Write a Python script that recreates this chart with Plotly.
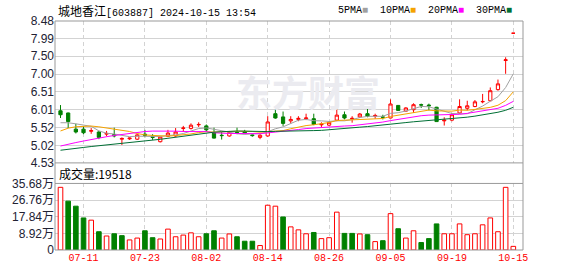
import plotly.graph_objects as go
import pandas as pd

# ---------------- data ----------------
dates = ["07-08", "07-09", "07-10", "07-11", "07-12", "07-15", "07-16", "07-17", "07-18", "07-19",
         "07-22", "07-23", "07-24", "07-25", "07-26", "07-29", "07-30", "07-31", "08-01", "08-02",
         "08-05", "08-06", "08-07", "08-08", "08-09", "08-12", "08-13", "08-14", "08-15", "08-16",
         "08-19", "08-20", "08-21", "08-22", "08-23", "08-26", "08-27", "08-28", "08-29", "08-30",
         "09-02", "09-03", "09-04", "09-05", "09-06", "09-09", "09-10", "09-11", "09-12", "09-13",
         "09-18", "09-19", "09-20", "09-23", "09-24", "09-25", "09-26", "09-27", "09-30", "10-15"]

opens = [5.98, 5.92, 5.47, 5.47, 5.41, 5.39, 5.33, 5.32, 5.19, 5.20,
         5.19, 5.33, 5.27, 5.12, 5.27, 5.28, 5.49, 5.49, 5.59, 5.56,
         5.37, 5.30, 5.28, 5.38, 5.40, 5.31, 5.24, 5.28, 5.90, 5.81,
         5.70, 5.74, 5.76, 5.76, 5.59, 5.58, 5.72, 5.87, 5.75, 5.81,
         5.90, 5.83, 5.81, 5.78, 6.13, 5.97, 6.01, 6.15, 6.14, 6.08,
         5.70, 5.72, 5.92, 6.05, 6.10, 6.23, 6.26, 6.57, 7.38, 8.14]
highs = [6.14, 5.93, 5.62, 5.55, 5.50, 5.42, 5.42, 5.51, 5.24, 5.24,
         5.33, 5.45, 5.33, 5.25, 5.45, 5.50, 5.56, 5.63, 5.66, 5.60,
         5.51, 5.39, 5.42, 5.51, 5.45, 5.32, 5.33, 5.83, 6.01, 5.96,
         5.83, 5.83, 5.90, 5.90, 5.66, 5.69, 6.12, 5.96, 5.83, 5.92,
         6.08, 5.90, 5.87, 6.30, 6.13, 6.08, 6.19, 6.18, 6.18, 6.09,
         5.80, 5.92, 6.30, 6.26, 6.28, 6.45, 6.63, 6.85, 7.47, 8.14]
lows = [5.78, 5.50, 5.35, 5.33, 5.34, 5.19, 5.27, 5.24, 5.03, 5.17,
        5.17, 5.24, 5.17, 5.10, 5.25, 5.26, 5.39, 5.46, 5.53, 5.40,
        5.21, 5.18, 5.26, 5.33, 5.33, 5.26, 5.19, 5.26, 5.76, 5.56,
        5.63, 5.69, 5.72, 5.58, 5.53, 5.56, 5.69, 5.74, 5.65, 5.78,
        5.80, 5.76, 5.74, 5.77, 5.98, 5.96, 5.92, 6.06, 5.99, 5.68,
        5.57, 5.69, 5.90, 5.99, 6.08, 6.19, 6.25, 6.54, 7.01, 8.14]
closes = [5.87, 5.68, 5.39, 5.37, 5.43, 5.24, 5.35, 5.28, 5.21, 5.22,
          5.31, 5.30, 5.24, 5.25, 5.36, 5.39, 5.50, 5.58, 5.60, 5.45,
          5.22, 5.29, 5.38, 5.37, 5.36, 5.29, 5.30, 5.67, 5.78, 5.63,
          5.74, 5.77, 5.78, 5.60, 5.61, 5.66, 5.86, 5.78, 5.77, 5.89,
          5.83, 5.85, 5.80, 6.17, 5.99, 6.06, 6.15, 6.14, 6.12, 5.68,
          5.72, 5.87, 6.10, 6.12, 6.23, 6.24, 6.54, 6.73, 7.40, 8.14]
# volume in 万 (lots)
volumes = [33.6, 26.2, 23.5, 17.2, 16.0, 9.8, 7.5, 8.7, 7.7, 5.4,
           6.4, 10.3, 6.6, 5.9, 11.2, 7.1, 8.0, 9.2, 7.1, 8.7,
           10.3, 6.4, 8.6, 7.1, 4.7, 4.7, 2.4, 24.0, 23.5, 17.7,
           12.4, 10.8, 8.7, 9.4, 6.1, 6.6, 20.3, 8.9, 8.9, 8.6,
           8.2, 4.5, 5.0, 19.5, 11.4, 6.4, 10.3, 4.0, 6.1, 14.0,
           8.7, 8.7, 14.0, 8.2, 8.7, 13.5, 17.2, 9.8, 33.6, 1.95]
# closes of the 29 sessions before the first visible bar (estimated from the MA lines)
prior_closes = [4.70, 4.68, 4.72, 4.66, 4.62, 4.60, 4.64, 4.65, 4.60, 4.61,
                4.58, 4.55, 4.52, 4.50, 4.55, 4.57, 4.60, 4.62, 4.63, 4.68,
                4.90, 5.00, 5.20, 5.40, 5.45, 5.68, 5.54, 5.57, 5.58]

price_ticks = [4.53, 5.02, 5.52, 6.01, 6.51, 7.00, 7.50, 7.99, 8.48]
vol_ticks = [0, 8.92, 17.84, 26.76, 35.68]
vol_tick_text = ["0", "8.92万", "17.84万", "26.76万", "35.68万"]
date_ticks = ["07-11", "07-23", "08-02", "08-14", "08-26", "09-05", "09-19", "10-15"]
ma_periods = [5, 10, 20, 30]
ma_names = ["5PMA", "10PMA", "20PMA", "30PMA"]
title_name = "城地香江"
title_code = "[603887] 2024-10-15 13:54"
last_volume_text = "成交量:19518"

# ---------------- styling ----------------
W, H = 578, 276
ML, MR, MT, MB = 55, 55, 21, 21
PH = H - MT - MB
RED = "#ff0000"
GREEN = "#008000"
ma_colors = ["#a0a0a0", "#f5a200", "#ff00ff", "#006f35"]
FRAME = "#999999"
GRID = "#d3d3d3"


def py(pix):
    return (H - MB - pix) / PH


def px(pix):
    return (pix - ML) / (W - ML - MR)


price_dom = [py(166), 1.0]
vol_dom = [0.0, py(187)]

all_closes = pd.Series(prior_closes + closes)
prev_close = all_closes.shift(1).iloc[len(prior_closes):].tolist()
vol_up = [c >= p for c, p in zip(closes, prev_close)]

fig = go.Figure()

fig.add_trace(go.Candlestick(
    x=dates, open=opens, high=highs, low=lows, close=closes,
    increasing=dict(line=dict(color=RED, width=1), fillcolor="#ffffff"),
    decreasing=dict(line=dict(color=GREEN, width=1), fillcolor=GREEN),
    whiskerwidth=0, xaxis="x", yaxis="y", showlegend=False, hoverinfo="skip",
))

for p, col in zip(ma_periods, ma_colors):
    ma = all_closes.rolling(p).mean().iloc[len(prior_closes):].tolist()
    fig.add_trace(go.Scatter(x=dates, y=ma, mode="lines",
                             line=dict(color=col, width=1),
                             xaxis="x", yaxis="y", showlegend=False, hoverinfo="skip"))

fig.add_trace(go.Bar(
    x=dates, y=volumes, width=0.6,
    marker=dict(color=["#ffffff" if u else GREEN for u in vol_up],
                line=dict(color=[RED if u else GREEN for u in vol_up], width=1)),
    xaxis="x2", yaxis="y2", showlegend=False, hoverinfo="skip",
))

n = len(dates)
spacing = (W - ML - MR) / (n + 0.98)
x_range = [-0.717, n - 0.717 + 0.98]

common_x = dict(type="category", range=x_range, tickvals=date_ticks,
                showgrid=True, gridcolor=GRID, griddash="4px,3px", gridwidth=1,
                zeroline=False, showline=False, ticks="", fixedrange=True)

fig.update_layout(
    width=W, height=H,
    margin=dict(l=ML, r=MR, t=MT, b=MB),
    paper_bgcolor="#ffffff", plot_bgcolor="#ffffff",
    boxgap=0.4,
    xaxis=dict(domain=[0, 1], anchor="y", showticklabels=False,
               rangeslider=dict(visible=False), **common_x),
    xaxis2=dict(domain=[0, 1], anchor="y2", matches="x", showticklabels=True,
                tickfont=dict(family="Liberation Mono", size=10, color=RED), **common_x),
    yaxis=dict(domain=price_dom, range=[price_ticks[0], price_ticks[-1]],
               tickvals=price_ticks, ticktext=[f"{v:.2f}" for v in price_ticks],
               showgrid=True, gridcolor=GRID, gridwidth=1, zeroline=False,
               showline=False, ticks="",
               tickfont=dict(family="Liberation Sans, Arial", size=12, color="#222233")),
    yaxis2=dict(domain=vol_dom, range=[0, vol_ticks[-1]],
                tickvals=vol_ticks, ticktext=vol_tick_text,
                showgrid=True, gridcolor=GRID, gridwidth=1, zeroline=False,
                showline=False, ticks="",
                tickfont=dict(family="Liberation Sans, Noto Sans CJK SC", size=12, color="#222233")),
    font=dict(family="Liberation Sans, Noto Sans CJK SC", size=12, color="#222222"),
)

# frame
shapes = [
    dict(type="rect", xref="paper", yref="paper", x0=0, x1=1, y0=price_dom[0], y1=1,
         line=dict(color=FRAME, width=1), layer="above"),
    dict(type="rect", xref="paper", yref="paper", x0=0, x1=1, y0=0, y1=vol_dom[1],
         line=dict(color=FRAME, width=1), layer="above"),
    dict(type="line", xref="paper", yref="paper", x0=0, x1=0, y0=vol_dom[1], y1=price_dom[0],
         line=dict(color=FRAME, width=1), layer="above"),
    dict(type="line", xref="paper", yref="paper", x0=1, x1=1, y0=vol_dom[1], y1=price_dom[0],
         line=dict(color=FRAME, width=1), layer="above"),
]
fig.update_layout(shapes=shapes)

legend_html = "&nbsp;&nbsp;".join(
    f"{name}<span style='color:{col}'>■</span>" for name, col in zip(ma_names, ma_colors))

annotations = [
    dict(text="东方财富", xref="paper", yref="paper", x=px(308), y=py(93),
         xanchor="center", yanchor="middle", showarrow=False,
         font=dict(family="Noto Sans CJK SC", size=36, color="#ebebf0", weight="bold")),
    dict(text=f"<span style='font-family:Noto Sans CJK SC;font-size:12px'>{title_name}</span>{title_code}",
         xref="paper", yref="paper", x=px(56), y=py(10), xanchor="left", yanchor="middle",
         showarrow=False, font=dict(family="Liberation Mono, Noto Sans CJK SC", size=10, color="#000000")),
    dict(text=legend_html, xref="paper", yref="paper", x=px(514), y=py(10),
         xanchor="right", yanchor="middle", showarrow=False,
         font=dict(family="Liberation Mono", size=10, color="#000000")),
    dict(text=last_volume_text, xref="paper", yref="paper", x=px(57), y=py(177),
         xanchor="left", yanchor="middle", showarrow=False,
         font=dict(family="Noto Sans CJK SC", size=12, color="#000000")),
]
fig.update_layout(annotations=annotations)

fig.write_html("out.html")
